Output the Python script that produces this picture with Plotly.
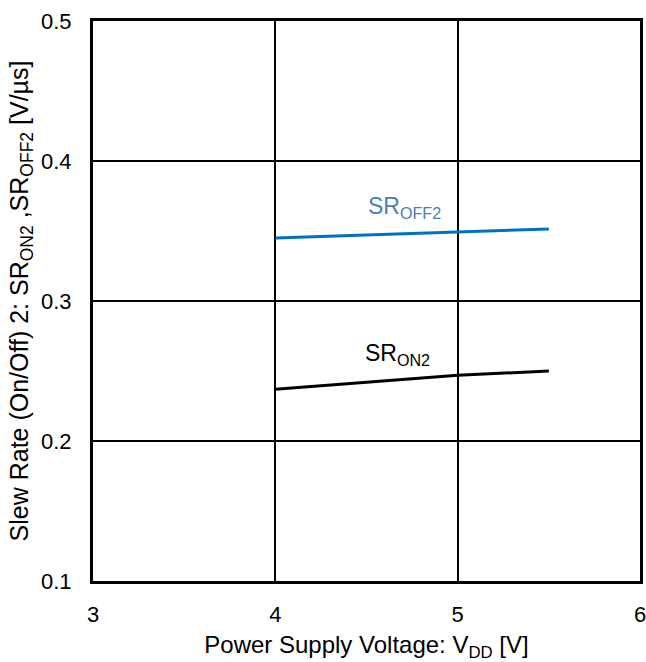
import plotly.graph_objects as go

vdd = [4.0, 5.0, 5.5]
sr_off2 = [0.345, 0.3495, 0.3515]
sr_on2 = [0.237, 0.247, 0.250]

x_ticks = [3, 4, 5, 6]
y_ticks = [0.1, 0.2, 0.3, 0.4, 0.5]

FONT = "Liberation Sans, Arial, sans-serif"

fig = go.Figure()
fig.add_trace(go.Scatter(x=vdd, y=sr_off2, mode="lines",
                         line=dict(color="#0070c0", width=3), name="SR_OFF2"))
fig.add_trace(go.Scatter(x=vdd, y=sr_on2, mode="lines",
                         line=dict(color="#000000", width=3), name="SR_ON2"))

fig.add_annotation(x=4.71, y=0.367, text="SR<sub>OFF2</sub>", showarrow=False,
                   font=dict(family=FONT, size=23, color="#4a7ebb"))
fig.add_annotation(x=4.67, y=0.262, text="SR<sub>ON2</sub>", showarrow=False,
                   font=dict(family=FONT, size=23, color="#000000"))

fig.update_layout(
    width=646, height=662,
    margin=dict(l=93, r=6, t=21, b=81),
    paper_bgcolor="white", plot_bgcolor="white",
    showlegend=False,
    font=dict(family=FONT, size=22, color="black"),
)
fig.update_xaxes(range=[3, 6], tickvals=x_ticks, ticktext=[str(v) for v in x_ticks],
                 showgrid=True, gridcolor="black", gridwidth=1.5,
                 showline=True, linecolor="black", linewidth=3, mirror=True,
                 zeroline=False, ticks="", ticklen=0, automargin=False,
                 ticklabelstandoff=12, ticklabeloverflow="allow",
                 tickfont=dict(size=22),
                 title=dict(text="Power Supply Voltage: V<sub>DD</sub> [V]",
                            font=dict(size=24), standoff=12))
fig.update_yaxes(range=[0.1, 0.5], tickvals=y_ticks, ticktext=[f"{v:.1f}" for v in y_ticks],
                 showgrid=True, gridcolor="black", gridwidth=1.5,
                 showline=True, linecolor="black", linewidth=3, mirror=True,
                 zeroline=False, ticks="", ticklen=0, automargin=False,
                 ticklabelstandoff=14, ticklabeloverflow="allow",
                 tickfont=dict(size=22),
                 title=dict(text="Slew Rate (On/Off) 2: SR<sub>ON2</sub> ,SR<sub>OFF2</sub> [V/µs]",
                            font=dict(size=25), standoff=6))

# remove the default page margin so the 646x662 figure fills the window exactly
fig.write_html("out.html",
               config={"displayModeBar": False},
               post_script="document.body.style.margin='0';document.body.style.overflow='hidden';")
